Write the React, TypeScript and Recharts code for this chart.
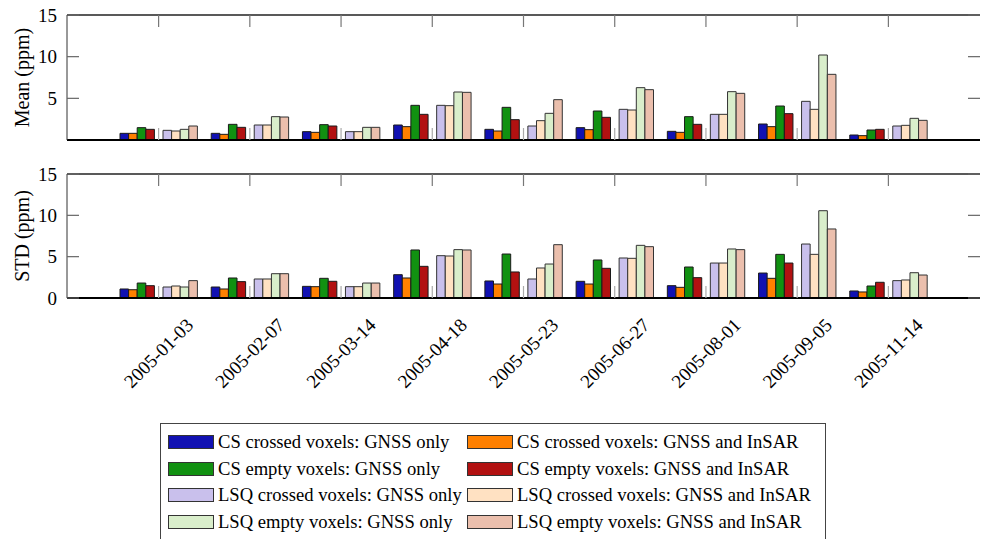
import React from "react";
import { BarChart, Bar, XAxis, YAxis } from "recharts";

const dates = [
  "2005-01-03", "2005-02-07", "2005-03-14", "2005-04-18", "2005-05-23",
  "2005-06-27", "2005-08-01", "2005-09-05", "2005-11-14",
];

// Mean (ppm)
const meanCsCrossedGnss = [0.8, 0.8, 1.0, 1.8, 1.28, 1.48, 1.04, 1.92, 0.6];
const meanCsCrossedInsar = [0.8, 0.68, 0.92, 1.6, 1.08, 1.24, 0.92, 1.6, 0.52];
const meanCsEmptyGnss = [1.48, 1.88, 1.84, 4.16, 3.92, 3.48, 2.8, 4.08, 1.2];
const meanCsEmptyInsar = [1.28, 1.52, 1.68, 3.08, 2.44, 2.72, 1.88, 3.16, 1.28];
const meanLsqCrossedGnss = [1.16, 1.8, 1.0, 4.16, 1.68, 3.68, 3.08, 4.64, 1.68];
const meanLsqCrossedInsar = [1.08, 1.8, 1.0, 4.12, 2.32, 3.6, 3.08, 3.68, 1.76];
const meanLsqEmptyGnss = [1.28, 2.8, 1.52, 5.76, 3.2, 6.28, 5.8, 10.2, 2.6];
const meanLsqEmptyInsar = [1.68, 2.76, 1.52, 5.72, 4.84, 6.04, 5.6, 7.88, 2.36];

// STD (ppm)
const stdCsCrossedGnss = [1.09, 1.33, 1.41, 2.82, 2.06, 2.02, 1.49, 3.02, 0.85];
const stdCsCrossedInsar = [1.0, 1.09, 1.37, 2.42, 1.69, 1.69, 1.29, 2.38, 0.73];
const stdCsEmptyGnss = [1.81, 2.42, 2.38, 5.81, 5.32, 4.6, 3.75, 5.28, 1.45];
const stdCsEmptyInsar = [1.49, 1.98, 2.02, 3.83, 3.15, 3.59, 2.46, 4.23, 1.9];
const stdLsqCrossedGnss = [1.33, 2.3, 1.37, 5.12, 2.3, 4.84, 4.23, 6.53, 2.1];
const stdLsqCrossedInsar = [1.45, 2.3, 1.37, 5.08, 3.63, 4.8, 4.23, 5.28, 2.18];
const stdLsqEmptyGnss = [1.33, 2.94, 1.81, 5.85, 4.11, 6.37, 5.93, 10.56, 3.06];
const stdLsqEmptyInsar = [2.1, 2.94, 1.81, 5.81, 6.45, 6.21, 5.85, 8.35, 2.78];

const yTicks = [0, 5, 10, 15];
const yMax = 15;

const series = [
  { key: "csCrossedGnss", name: "CS crossed voxels: GNSS only", color: "#1111b2" },
  { key: "csCrossedInsar", name: "CS crossed voxels: GNSS and InSAR", color: "#ff8000" },
  { key: "csEmptyGnss", name: "CS empty voxels: GNSS only", color: "#119111" },
  { key: "csEmptyInsar", name: "CS empty voxels: GNSS and InSAR", color: "#b21111" },
  { key: "lsqCrossedGnss", name: "LSQ crossed voxels: GNSS only", color: "#c9c0ec" },
  { key: "lsqCrossedInsar", name: "LSQ crossed voxels: GNSS and InSAR", color: "#ffe1c2" },
  { key: "lsqEmptyGnss", name: "LSQ empty voxels: GNSS only", color: "#d9eecb" },
  { key: "lsqEmptyInsar", name: "LSQ empty voxels: GNSS and InSAR", color: "#ebbfad" },
];

const meanData = dates.map((date, i) => ({
  date,
  csCrossedGnss: meanCsCrossedGnss[i],
  csCrossedInsar: meanCsCrossedInsar[i],
  csEmptyGnss: meanCsEmptyGnss[i],
  csEmptyInsar: meanCsEmptyInsar[i],
  lsqCrossedGnss: meanLsqCrossedGnss[i],
  lsqCrossedInsar: meanLsqCrossedInsar[i],
  lsqEmptyGnss: meanLsqEmptyGnss[i],
  lsqEmptyInsar: meanLsqEmptyInsar[i],
}));

const stdData = dates.map((date, i) => ({
  date,
  csCrossedGnss: stdCsCrossedGnss[i],
  csCrossedInsar: stdCsCrossedInsar[i],
  csEmptyGnss: stdCsEmptyGnss[i],
  csEmptyInsar: stdCsEmptyInsar[i],
  lsqCrossedGnss: stdLsqCrossedGnss[i],
  lsqCrossedInsar: stdLsqCrossedInsar[i],
  lsqEmptyGnss: stdLsqEmptyGnss[i],
  lsqEmptyInsar: stdLsqEmptyInsar[i],
}));

const FONT = "Liberation Serif, Tinos, Times New Roman, Times, Nimbus Roman, DejaVu Serif";
const WIDTH = 981;
const LEFT = 67;
const PLOT_W = WIDTH - LEFT - 1;

// x ticks: inward marks at bottom and top of the frame; the first one also closes the top edge
function XTick(props: any) {
  const { x, y, payload, index, plotH, showLabel } = props;
  const cy = y + 55;
  const top = y - plotH;
  return (
    <g>
      {index === 0 && (
        <path d={`M${LEFT},${top}H${LEFT + PLOT_W}`} stroke="#222" strokeWidth={1.3} fill="none" />
      )}
      <line x1={x} x2={x} y1={y} y2={y - 12} stroke="#aaa" strokeWidth={1.2} />
      <line x1={x} x2={x} y1={top} y2={top + 12} stroke="#777" strokeWidth={1.2} />
      {showLabel && (
        <text x={x} y={cy} textAnchor="middle" dominantBaseline="central"
          transform={`rotate(-45, ${x}, ${cy})`} style={{ fontFamily: FONT }} fontSize={19} fill="#000">
          {payload.value}
        </text>
      )}
    </g>
  );
}

function YTick(props: any) {
  const { x, y, payload } = props;
  return (
    <g>
      <line x1={x} x2={x + 12} y1={y} y2={y} stroke="#666" strokeWidth={1.2} />
      <line x1={x + PLOT_W - 12} x2={x + PLOT_W} y1={y} y2={y} stroke="#666" strokeWidth={1.2} />
      <text x={x - 10} y={y} textAnchor="end" dominantBaseline="central"
        style={{ fontFamily: FONT }} fontSize={19} fill="#000">
        {payload.value}
      </text>
    </g>
  );
}

function Panel({ data, label, height, plotH, axisH, showLabels }: {
  data: any[]; label: string; height: number; plotH: number; axisH: number; showLabels: boolean;
}) {
  return (
    <BarChart width={WIDTH} height={height} data={data} barGap={0} barSize={8.6}
      margin={{ top: 15, right: 1, bottom: 0, left: 0 }}>
      <XAxis dataKey="date" interval={0} height={axisH} tickSize={0} tickMargin={0}
        padding={{ left: 46, right: 46 }} tickLine={false}
        axisLine={{ stroke: "#000", strokeWidth: 2 }}
        tick={<XTick plotH={plotH} showLabel={showLabels} />} />
      <YAxis domain={[0, yMax]} ticks={yTicks} width={LEFT} tickSize={0} tickMargin={0}
        tickLine={false} axisLine={{ stroke: "#333", strokeWidth: 1 }} tick={<YTick />}
        label={{
          content: (p: any) => {
            const vb = p.viewBox || {};
            const cy = (vb.y ?? 15) + (vb.height ?? plotH) / 2;
            return (
              <text x={22} y={cy} textAnchor="middle" dominantBaseline="central"
                transform={`rotate(-90, 22, ${cy})`} style={{ fontFamily: FONT }} fontSize={20} fill="#000">
                {label}
              </text>
            );
          },
        }} />
      <YAxis yAxisId="right" orientation="right" width={0} tick={false} tickLine={false}
        axisLine={{ stroke: "#333", strokeWidth: 1 }} />
      {series.slice(0, 4).map((s) => (
        <Bar key={s.key} dataKey={s.key} fill={s.color} stroke="#1a1a1a" strokeWidth={1}
          isAnimationActive={false} />
      ))}
      <Bar dataKey="gap" fill="none" isAnimationActive={false} />
      {series.slice(4).map((s) => (
        <Bar key={s.key} dataKey={s.key} fill={s.color} stroke="#333" strokeWidth={1}
          isAnimationActive={false} />
      ))}
    </BarChart>
  );
}

function Legend() {
  const rows = [0, 2, 4, 6];
  return (
    <div style={{
      position: "absolute", left: 160, top: 423, width: 666, height: 130,
      border: "1px solid #444", boxSizing: "border-box", fontFamily: FONT, fontSize: 18.6,
    }}>
      {rows.map((r, ri) =>
        [series[r], series[r + 1]].map((s, ci) => (
          <div key={s.key} style={{
            position: "absolute", left: ci === 0 ? 7 : 306, top: 7 + ri * 26.7,
            display: "flex", alignItems: "center", height: 22, whiteSpace: "nowrap",
          }}>
            <span style={{
              display: "inline-block", width: 46, height: 14, background: s.color,
              border: "1px solid #333", boxSizing: "border-box", marginRight: 4,
            }} />
            <span>{s.name}</span>
          </div>
        ))
      )}
    </div>
  );
}

export default function App() {
  return (
    <div style={{ position: "absolute", left: 0, top: 0, width: WIDTH, height: 539, background: "#fff", overflow: "hidden" }}>
      <div style={{ position: "absolute", left: 0, top: 0 }}>
        <Panel data={meanData} label="Mean (ppm)" height={145} plotH={125} axisH={5} showLabels={false} />
      </div>
      <div style={{ position: "absolute", left: 0, top: 159 }}>
        <Panel data={stdData} label="STD (ppm)" height={240} plotH={124} axisH={101} showLabels={true} />
      </div>
      <Legend />
    </div>
  );
}
